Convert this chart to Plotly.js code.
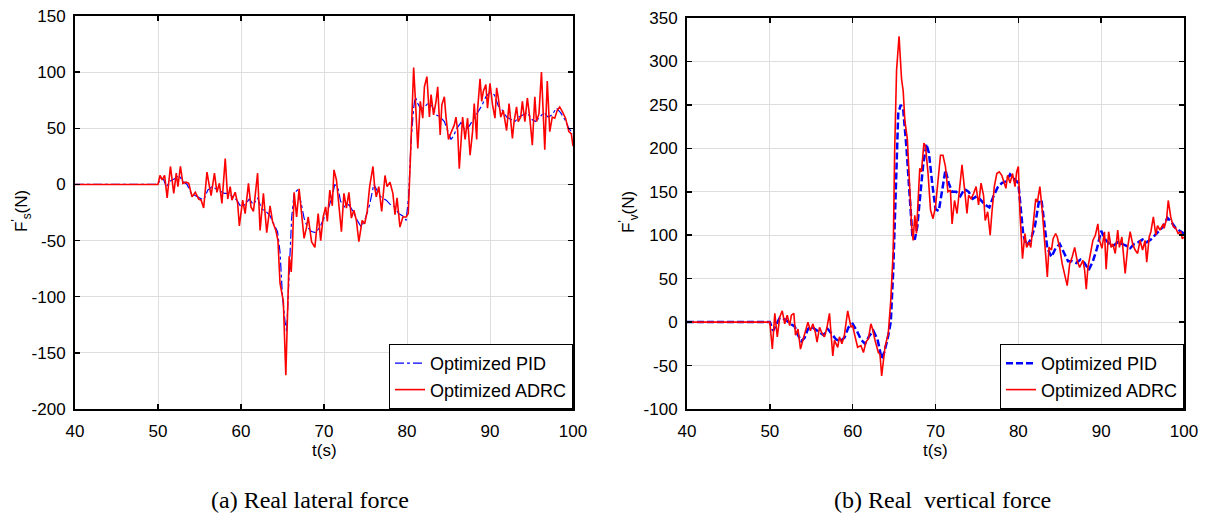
<!DOCTYPE html>
<html>
<head>
<meta charset="utf-8">
<script src="https://cdn.plot.ly/plotly-3.0.1.min.js"></script>
<style>html,body{margin:0;padding:0;background:#fff;}#chart{width:1207px;height:519px;}</style>
</head>
<body>
<div id="chart"></div>
<script>
// ---- (a) Real lateral force ----
const latPidT = [40,50,50.3,50.7,51.0,51.5,52.0,52.5,53.0,53.5,54.0,54.5,55.0,55.5,56.0,56.5,57.0,57.5,58.0,58.5,59.0,59.5,60.0,60.5,61.0,61.5,62.0,62.5,63.0,63.5,64.0,64.4,64.7,65.0,65.3,65.5,65.8,66.1,66.4,66.8,67.2,67.6,68.0,68.5,69.0,69.5,70.0,70.5,71.0,71.3,71.7,72.0,72.5,73.0,73.5,74.0,74.5,75.0,75.5,76.0,76.3,76.7,77.0,77.5,78.0,78.5,79.0,79.5,79.9,80.2,80.5,80.8,81.0,81.3,81.6,82.0,82.5,83.0,83.5,84.0,84.5,85.0,85.3,85.6,86.0,86.5,87.0,87.5,88.0,88.5,89.0,89.5,90.0,90.5,91.0,91.5,92.0,92.5,93.0,93.5,94.0,94.5,95.0,95.5,96.0,96.5,97.0,97.5,98.0,98.5,99.0,99.5,100];
const latPidV = [0,0,6,4,-2,3,5,8,3,0,-8,-10,-12,-14,-5,-2,-4,-6,-8,-8,-11,-14,-20,-18,-13,-18,-12,-22,-24,-28,-36,-42,-60,-100,-122,-131,-80,-30,-8,-5,-15,-30,-38,-42,-43,-38,-30,-22,-10,0,-4,-15,-20,-18,-24,-32,-38,-30,-18,0,-4,-10,-12,-14,-18,-20,-26,-28,-32,-10,40,68,78,72,68,68,72,70,62,60,56,45,40,43,50,55,48,52,58,64,70,78,82,80,70,66,60,58,56,60,62,64,58,56,60,64,60,62,68,64,58,50,45];
const latAdrcT = [40,50,50.24,50.5,50.8,51.1,51.5,51.9,52.2,52.4,52.7,53.0,53.4,53.7,54.1,54.5,54.9,55.2,55.5,55.9,56.2,56.4,56.8,57.1,57.4,57.7,58.1,58.4,58.7,58.9,59.3,59.6,59.8,60.2,60.5,60.9,61.2,61.5,62.0,62.3,62.7,63.1,63.5,63.8,64.2,64.45,64.7,65.1,65.4,65.55,65.8,66.05,66.2,66.4,66.7,67.0,67.3,67.6,67.9,68.1,68.5,68.9,69.3,69.6,69.9,70.2,70.4,70.7,71.0,71.2,71.5,71.8,72.1,72.4,72.7,73.0,73.3,73.6,73.9,74.2,74.6,74.9,75.2,75.5,75.9,76.1,76.3,76.6,76.95,77.35,77.6,77.95,78.3,78.55,78.8,79.15,79.5,79.9,80.15,80.45,80.65,80.8,81.0,81.3,81.6,81.9,82.1,82.4,82.7,82.9,83.2,83.5,83.7,84.0,84.2,84.5,84.7,85.0,85.3,85.5,85.7,85.9,86.1,86.3,86.5,86.7,87.0,87.3,87.6,87.9,88.1,88.4,88.5,88.8,89.0,89.2,89.5,89.7,90.0,90.3,90.6,90.8,91.0,91.3,91.6,91.8,92.0,92.3,92.7,92.9,93.2,93.4,93.7,93.9,94.2,94.5,94.8,95.1,95.4,95.6,95.9,96.2,96.6,96.9,97.2,97.5,97.8,98.1,98.4,98.7,99.1,99.5,99.8,100];
const latAdrcV = [0,0,8,4,8,-12,16,-8,10,-2,16,1,2,1,-11,-7,-13,-14,-21,11,-2,-10,10,-7,1,-17,23,-13,-2,-14,-7,-17,-37,-14,-26,1,-20,-24,10,-41,-8,-43,-19,-33,-41,-50,-88,-104,-170,-130,-64,-78,-55,-7,-29,-4,-27,-48,-38,-29,-51,-56,-26,-50,-29,-20,-33,-5,-19,13,4,-19,-42,-8,-21,-7,-30,-23,-32,-51,-32,-35,-24,-2,16,-2,-11,-2,-24,8,-2,2,-8,-27,-12,-38,-29,-29,-26,31,75,104,77,32,74,59,87,96,60,80,62,74,87,44,71,78,60,40,46,50,53,60,48,14,38,60,40,59,26,47,72,40,66,94,74,83,89,68,90,71,59,86,77,60,66,57,48,72,41,56,69,56,60,74,56,77,59,35,78,56,63,100,31,92,47,60,59,66,69,65,59,47,45,34];

// ---- (b) Real vertical force ----
const verPidT = [40,50,50.4,50.8,51.2,51.6,52.0,52.5,53.0,53.4,53.8,54.2,54.6,55.0,55.5,56.0,56.5,57.0,57.5,58.0,58.5,59.0,59.5,60.0,60.5,61.0,61.5,62.0,62.5,63.0,63.5,63.8,64.2,64.6,64.9,65.2,65.5,65.8,66.1,66.5,66.9,67.2,67.5,67.8,68.1,68.5,68.9,69.2,69.6,70.0,70.4,70.8,71.2,71.6,72.0,72.5,73.0,73.5,74.0,74.5,75.0,75.5,76.0,76.5,77.0,77.5,78.0,78.5,79.0,79.5,80.0,80.3,80.6,81.0,81.5,82.0,82.5,82.8,83.1,83.5,84.0,84.5,85.0,85.5,86.0,86.5,87.0,87.5,88.0,88.5,89.0,89.5,90.0,90.5,91.0,91.5,92.0,92.5,93.0,93.5,94.0,94.5,95.0,95.5,96.0,96.5,97.0,97.5,98.0,98.5,99.0,99.5,100];
const verPidV = [0,0,-10,-2,5,4,2,-2,-5,-15,-22,-18,-8,-5,-8,-12,-15,-8,-14,-20,-22,-18,-6,-2,-10,-20,-25,-16,-10,-20,-42,-35,-20,0,60,150,240,250,245,200,140,100,95,110,140,180,205,195,160,130,128,150,175,160,150,150,145,153,150,142,145,140,135,132,145,155,160,162,170,165,160,130,100,88,95,110,140,140,115,85,75,85,90,80,70,70,68,72,68,60,70,85,105,95,90,88,92,90,88,85,90,92,95,92,95,100,105,110,120,115,108,105,102];
const verAdrcT = [40,50,50.3,50.6,50.9,51.2,51.5,51.8,52.1,52.4,52.6,52.9,53.1,53.4,53.7,54.0,54.3,54.6,54.9,55.2,55.5,55.7,56.0,56.3,56.6,56.9,57.2,57.6,57.8,58.2,58.4,58.7,59.0,59.4,59.8,60.0,60.3,60.6,61.0,61.3,61.6,61.9,62.2,62.4,62.7,63.1,63.3,63.5,63.9,64.3,64.6,64.9,65.06,65.3,65.6,65.9,66.1,66.3,66.6,66.8,67.0,67.1,67.3,67.5,67.7,67.9,68.1,68.3,68.6,68.8,69.1,69.4,69.7,70.0,70.3,70.6,70.9,71.2,71.5,71.8,72.0,72.3,72.6,72.9,73.2,73.5,73.8,74.0,74.3,74.6,74.9,75.2,75.5,75.8,76.0,76.3,76.6,76.8,77.1,77.4,77.7,78.0,78.2,78.5,78.7,79.0,79.3,79.6,79.8,80.0,80.2,80.5,80.8,81.0,81.3,81.5,81.8,82.1,82.3,82.6,82.9,83.2,83.5,83.7,84.0,84.2,84.5,84.7,85.0,85.3,85.7,85.9,86.2,86.5,86.8,87.1,87.4,87.8,88.0,88.2,88.4,88.8,89.0,89.3,89.6,89.8,90.1,90.4,90.6,90.9,91.2,91.4,91.7,92.0,92.2,92.5,92.9,93.2,93.5,93.8,94.1,94.4,94.7,95.0,95.3,95.5,95.8,96.0,96.3,96.6,96.8,97.1,97.5,97.6,97.9,98.1,98.4,98.7,99.0,99.3,99.6,99.8,100];
const verAdrcV = [0,0,-31,10,-17,6,13,-2,8,-4,8,10,-15,-8,-31,-21,-10,0,-10,-2,-12,-23,-6,-13,-17,-6,10,-39,-21,-29,-17,-25,-15,13,-6,-4,-17,-29,-27,-35,-23,-19,-2,-8,-21,-35,-37,-62,-29,-13,25,83,193,290,329,280,266,232,211,174,136,113,94,123,102,136,177,173,206,202,171,129,119,133,163,192,192,179,150,152,113,140,125,152,181,154,125,146,142,148,156,135,160,146,117,127,100,125,156,171,173,169,163,154,169,160,171,156,173,179,125,73,102,86,92,86,113,142,138,156,127,86,52,86,83,96,102,98,85,67,52,42,67,75,86,71,63,71,60,38,63,83,94,100,113,94,85,104,61,104,86,90,79,106,86,98,56,86,104,90,83,79,94,83,94,69,98,104,121,100,111,106,113,108,119,140,121,110,108,102,104,96,98];

// ---- tick labels ----
const xTicks = [40,50,60,70,80,90,100];
const xTickText = ["40","50","60","70","80","90","100"];
const latYTicks = [-200,-150,-100,-50,0,50,100,150];
const latYTickText = ["-200","-150","-100","-50","0","50","100","150"];
const verYTicks = [-100,-50,0,50,100,150,200,250,300,350];
const verYTickText = ["-100","-50","0","50","100","150","200","250","300","350"];

const names = ["Optimized PID", "Optimized ADRC"];
const captions = ["(a) Real lateral force", "(b) Real  vertical force"];
const xTitle = "t(s)";
const yTitles = ["F<sup>'</sup><sub>s</sub>(N)", "F<sup>'</sup><sub>v</sub>(N)"];

const W = 1207, H = 519;
const px = v => v / W, py = v => 1 - v / H;
const font = "Arial, 'Liberation Sans', sans-serif";
const serif = "'Liberation Serif', 'Times New Roman', serif";

const traces = [
  {x: latPidT, y: latPidV, name: names[0], xaxis: 'x', yaxis: 'y', mode: 'lines', legend: 'legend',
   line: {color: '#0000ff', width: 1.2, dash: 'dashdot'}},
  {x: latAdrcT, y: latAdrcV, name: names[1], xaxis: 'x', yaxis: 'y', mode: 'lines', legend: 'legend',
   line: {color: '#ff0000', width: 1.6}},
  {x: verPidT, y: verPidV, name: names[0], xaxis: 'x2', yaxis: 'y2', mode: 'lines', legend: 'legend2',
   line: {color: '#0000ff', width: 2.5, dash: '7px,3px'}},
  {x: verAdrcT, y: verAdrcV, name: names[1], xaxis: 'x2', yaxis: 'y2', mode: 'lines', legend: 'legend2',
   line: {color: '#ff0000', width: 1.6}}
];

function ax(domain, range, tickvals, ticktext, anchor, extra) {
  return Object.assign({
    domain: domain, range: range, tickmode: 'array', tickvals: tickvals, ticktext: ticktext, anchor: anchor,
    showline: true, linecolor: '#000', linewidth: 2, mirror: 'ticks',
    ticks: 'inside', ticklen: 5, tickwidth: 1.5, tickcolor: '#000',
    showgrid: true, gridcolor: '#dedede', gridwidth: 1, zeroline: false,
    tickfont: {family: font, size: 17, color: '#000'}
  }, extra || {});
}

const legendStyle = {
  bgcolor: '#fff', bordercolor: '#000', borderwidth: 1,
  font: {family: font, size: 18, color: '#000'},
  xanchor: 'right', yanchor: 'bottom', tracegroupgap: 0
};

function ann(text, x, y, size, fam, angle) {
  return {text: text, x: px(x), y: py(y), xref: 'paper', yref: 'paper', showarrow: false,
          xanchor: 'center', yanchor: 'middle', textangle: angle || 0,
          font: {family: fam, size: size, color: '#000'}};
}

const layout = {
  width: W, height: H,
  margin: {l: 0, r: 0, t: 0, b: 0},
  paper_bgcolor: '#fff', plot_bgcolor: '#fff',
  showlegend: true,
  xaxis: ax([px(75), px(573)], [40, 100], xTicks, xTickText, 'y', {ticklabelstandoff: 6}),
  yaxis: ax([py(409), py(16)], [-200, 150], latYTicks, latYTickText, 'x', {ticklabelstandoff: 4}),
  xaxis2: ax([px(687), px(1184)], [40, 100], xTicks, xTickText, 'y2', {ticklabelstandoff: 6}),
  yaxis2: ax([py(409), py(18)], [-100, 350], verYTicks, verYTickText, 'x2', {ticklabelstandoff: 4}),
  legend: Object.assign({x: px(573), y: py(409)}, legendStyle),
  legend2: Object.assign({x: px(1184), y: py(409)}, legendStyle),
  annotations: [
    ann(xTitle, 324, 450, 17, font),
    ann(xTitle, 935, 450, 17, font),
    ann(yTitles[0], 22, 211, 17, font, -90),
    ann(yTitles[1], 629, 212, 17, font, -90),
    ann(captions[0], 310, 500, 24, serif),
    ann(captions[1], 942, 500, 24, serif)
  ]
};

Plotly.newPlot('chart', traces, layout, {displayModeBar: false, staticPlot: true});
</script>
</body>
</html>
